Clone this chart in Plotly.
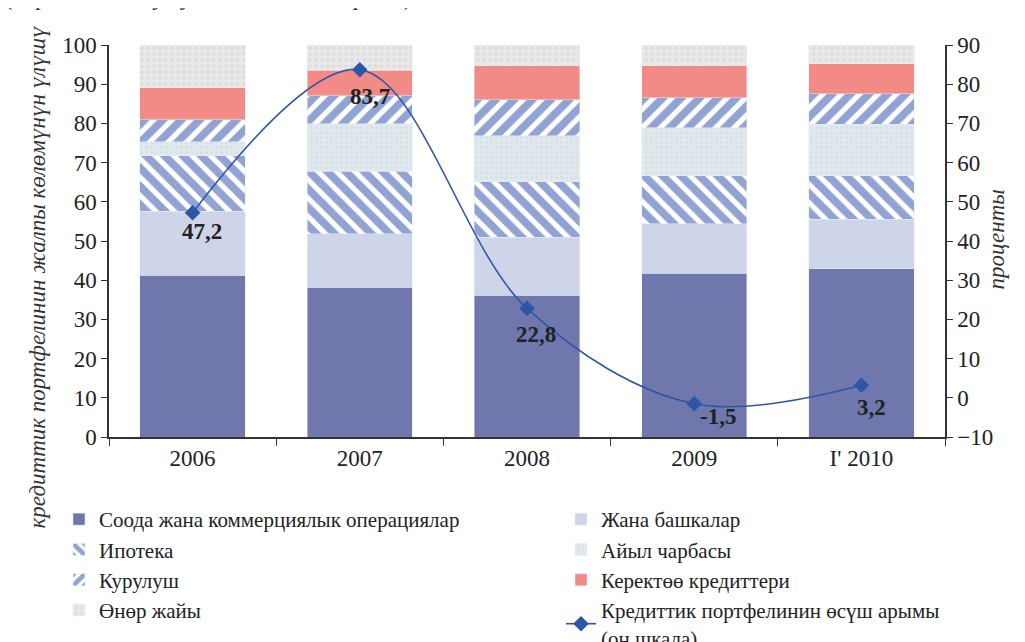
import plotly.graph_objects as go

years = ["2006", "2007", "2008", "2009", "I' 2010"]

# shares of the loan portfolio, % (stack from bottom)
trade = [41.3, 38.2, 36.2, 41.8, 42.9]
other = [16.3, 13.6, 14.7, 12.6, 12.6]
mortgage = [14.2, 16.0, 14.2, 12.3, 11.2]
agriculture = [3.5, 12.1, 11.8, 12.2, 13.1]
construction = [5.6, 7.2, 9.1, 7.6, 7.8]
consumer = [8.2, 6.5, 8.7, 8.2, 7.6]
industry = [10.9, 6.4, 5.3, 5.3, 4.8]

# growth rate of the loan portfolio, % (right axis)
growth = [47.2, 83.7, 22.8, -1.5, 3.2]
label_shift = [(9, -19), (10, -27), (9, -26), (24, -13), (10, -22)]

FONT = "Liberation Serif"
FS = 23
LEG_FS = 21
STRIPE = "#2447a8"

W, H = 1025, 642
BODY = 8  # default page margin around the plot div
PL, PT, PR, PB = 109, 45, 945, 437  # plot area on the page, px
pw, ph = PR - PL, PB - PT


def px(x, y):
    # pixel position on the page -> paper coordinates
    return (x - PL) / pw, (PB - y) / ph


fig = go.Figure()

fig.add_trace(go.Bar(x=years, y=trade, name="Соода жана коммерциялык операциялар",
                     marker_color="#6f77ad", legend="legend"))
fig.add_trace(go.Bar(x=years, y=other, name="Жана башкалар",
                     marker_color="#ced5e8", legend="legend2"))
fig.add_trace(go.Bar(x=years, y=mortgage, name="Ипотека", legend="legend",
                     marker_color="white",
                     marker_pattern=dict(shape="\\", fgcolor=STRIPE, bgcolor="white",
                                         size=13, solidity=0.6)))
fig.add_trace(go.Bar(x=years, y=agriculture, name="Айыл чарбасы", legend="legend2",
                     marker_color="#dfe8ec",
                     marker_pattern=dict(shape=".", fgcolor="#ccdae1", bgcolor="#e1e9ed",
                                         size=5, solidity=0.3)))
fig.add_trace(go.Bar(x=years, y=construction, name="Курулуш", legend="legend",
                     marker_color="white",
                     marker_pattern=dict(shape="/", fgcolor=STRIPE, bgcolor="white",
                                         size=13, solidity=0.6)))
fig.add_trace(go.Bar(x=years, y=consumer, name="Керектөө кредиттери",
                     marker_color="#f28b86", legend="legend2"))
fig.add_trace(go.Bar(x=years, y=industry, name="Өнөр жайы", legend="legend",
                     marker_color="#e6e6e6",
                     marker_pattern=dict(shape=".", fgcolor="#d0d0d0", bgcolor="#e8e8e8",
                                         size=6, solidity=0.3)))

fig.add_trace(go.Scatter(
    x=years, y=growth, yaxis="y2", mode="lines+markers", legend="legend2",
    name="Кредиттик портфелинин өсүш арымы<br>(оң шкала)",
    line=dict(color="#2f55a8", width=1.6, shape="spline", smoothing=1.0),
    marker=dict(symbol="diamond", size=12, color="#2f55a8"),
))

# category axes read numeric-looking strings as indices, so place labels by index
for i, (val, (dx, dy)) in enumerate(zip(growth, label_shift)):
    fig.add_annotation(x=i, y=val, xref="x", yref="y2",
                       text=f"{val:.1f}".replace(".", ","), showarrow=False,
                       xshift=dx, yshift=dy,
                       font=dict(family=FONT, size=FS, color="#222222", weight="bold"))

ax, ay = px(22, 277)
fig.add_annotation(x=ax, y=ay, xref="paper", yref="paper", showarrow=False,
                   text="кредиттик портфелинин жалпы көлөмүнүн үлүшү", textangle=-90,
                   font=dict(family=FONT, size=FS, color="#333333", style="italic"))

ax, ay = px(1010, 240)
fig.add_annotation(x=ax, y=ay, xref="paper", yref="paper", showarrow=False,
                   text="проценты", textangle=-90,
                   font=dict(family=FONT, size=FS, color="#333333", style="italic"))

ax, ay = px(4, 12)
fig.add_annotation(x=ax, y=ay, xref="paper", yref="paper", showarrow=False,
                   xanchor="left", yanchor="bottom",
                   text="(бир жылдагы ушул эле мезгилге карата)",
                   font=dict(family=FONT, size=FS, color="#333333", style="italic"))

legend_style = dict(xanchor="left", yanchor="top", traceorder="normal",
                    font=dict(family=FONT, size=LEG_FS, color="#222222"),
                    bgcolor="rgba(0,0,0,0)", itemwidth=30, tracegroupgap=0)
l1x, l1y = px(59, 499)
l2x, l2y = px(561, 499)

fig.update_layout(
    width=W, height=H,
    margin=dict(l=PL - BODY, r=W - (PR - BODY), t=PT - BODY, b=H - (PB - BODY),
                autoexpand=False),
    barmode="stack", bargap=0.37,
    plot_bgcolor="white", paper_bgcolor="white",
    font=dict(family=FONT, size=FS, color="#222222"),
    showlegend=True,
    legend=dict(x=l1x, y=l1y, **legend_style),
    legend2=dict(x=l2x, y=l2y, **legend_style),
    xaxis=dict(type="category", range=[-0.5, 4.5], showline=True,
               linecolor="#333333", linewidth=1.5,
               ticks="outside", tickson="boundaries", ticklen=7, tickcolor="#333333",
               showgrid=False, tickangle=0),
    yaxis=dict(range=[0, 100], dtick=10, showline=True, linecolor="#333333", linewidth=1.5,
               ticks="outside", ticklen=6, tickcolor="#333333", showgrid=False,
               zeroline=False),
    yaxis2=dict(range=[-10, 90], dtick=10, overlaying="y", side="right",
                showline=True, linecolor="#333333", linewidth=1.5,
                ticks="outside", ticklen=6, tickcolor="#333333", showgrid=False,
                zeroline=False),
)

fig.write_html("out.html")
